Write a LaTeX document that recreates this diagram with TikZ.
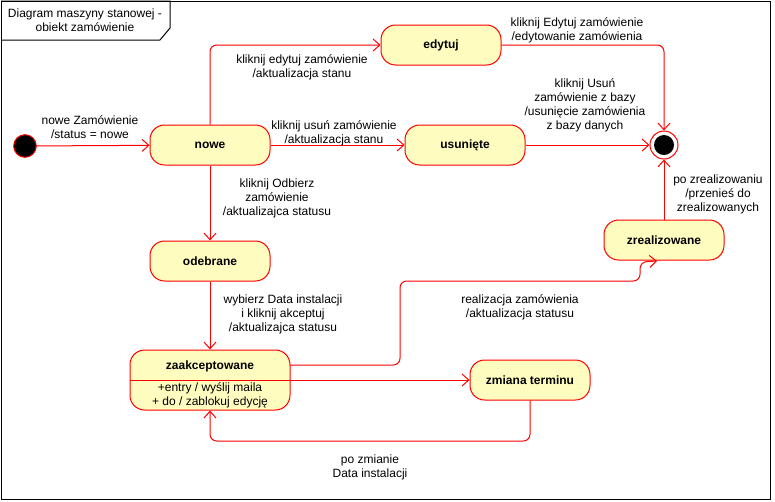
\documentclass[tikz,border=0pt]{standalone}
\usepackage{fontspec}
\setmainfont{Liberation Sans}
\usetikzlibrary{arrows.meta}

\begin{document}
\begin{tikzpicture}[x=0.75pt, y=-0.75pt, line width=0.75pt,
  every node/.style = {font=\fontsize{9}{10.5}\selectfont, align=center, inner sep=1pt},
  state/.style = {shape=rectangle, rounded corners=11pt, draw=red, fill=yellow!25,
    minimum width=90pt, minimum height=30pt, font=\fontsize{9}{10.5}\selectfont\bfseries},
  trans/.style = {draw=red, rounded corners=5pt, -{Straight Barb[length=5pt, width=9pt]}}]
  \useasboundingbox (0,0) rectangle (775,501);
  \draw (1,1) rectangle (770,499);
  \draw (1,1) -- (170,1) -- (170,28) -- (160,40) -- (1,40);
  \node (title) at (85,20) {Diagram maszyny stanowej -\\obiekt zamówienie};

  % states
  \node [circle, draw=red, fill=black, minimum size=17pt, inner sep=0pt] (start) at (25,146) {};
  \node [circle, draw=red, fill=white, minimum size=21pt, inner sep=0pt] (stop) at (664,145) {};
  \fill [black] (stop) circle (7.5pt);
  \node [state] (nowe) at (210,145) {nowe};
  \node [state] (edytuj) at (441,45) {edytuj};
  \node [state] (usuniete) at (465,145) {usunięte};
  \node [state] (odebrane) at (210,261) {odebrane};
  \node [state, minimum width=120pt, minimum height=45pt] (zaak) at (210,380) {};
  \draw [red] (zaak.west) -- (zaak.east);
  \node [font=\fontsize{9}{10.5}\selectfont\bfseries] (zaakhead) at (210,366) {zaakceptowane};
  \node (zaakbody) at (210,395) {+entry / wyślij maila\\+ do / zablokuj edycję};
  \node [state] (zmiana) at (530,380) {zmiana terminu};
  \node [state] (zreal) at (664,240) {zrealizowane};

  % transitions
  \draw [trans] (start) -- (nowe);
  \draw [trans] (nowe.north) |- (edytuj.west);
  \draw [trans] (edytuj.east) -| (stop.north);
  \draw [trans] (nowe) -- (usuniete);
  \draw [trans] (usuniete) -- (stop);
  \draw [trans] (nowe) -- (odebrane);
  \draw [trans] (odebrane) -- (zaak);
  \draw [trans] (290,365) -- (400,365) -- (400,281) -- (640,281) -- (640,262) -- (657,261);
  \draw [trans] (zaak.east) -- (zmiana.west);
  \draw [trans] (zmiana.south) -- (530,441) -- (210,441) -- (zaak.south);
  \draw [trans] (zreal.north) -- (stop.south);

  % labels
  \node (l1) at (90,127) {nowe Zamówienie\\/status = nowe};
  \node (l2) at (302,67) {kliknij edytuj zamówienie\\/aktualizacja stanu};
  \node (l3) at (577,30) {kliknij Edytuj zamówienie\\/edytowanie zamówienia};
  \node (l4) at (334,133) {kliknij usuń zamówienie\\/aktualizacja stanu};
  \node (l5) at (585,105) {kliknij Usuń\\zamówienie z bazy\\/usunięcie zamówienia\\z bazy danych};
  \node (l6) at (277,198) {kliknij Odbierz\\zamówienie\\/aktualizajca statusu};
  \node (l7) at (718,194) {po zrealizowaniu\\/przenieś do\\zrealizowanych};
  \node (l8) at (283,314) {wybierz Data instalacji\\i kliknij akceptuj\\/aktualizajca statusu};
  \node (l9) at (520,307) {realizacja zamówienia\\/aktualizacja statusu};
  \node (l10) at (370,467) {po zmianie\\Data instalacji};
\end{tikzpicture}
\end{document}
